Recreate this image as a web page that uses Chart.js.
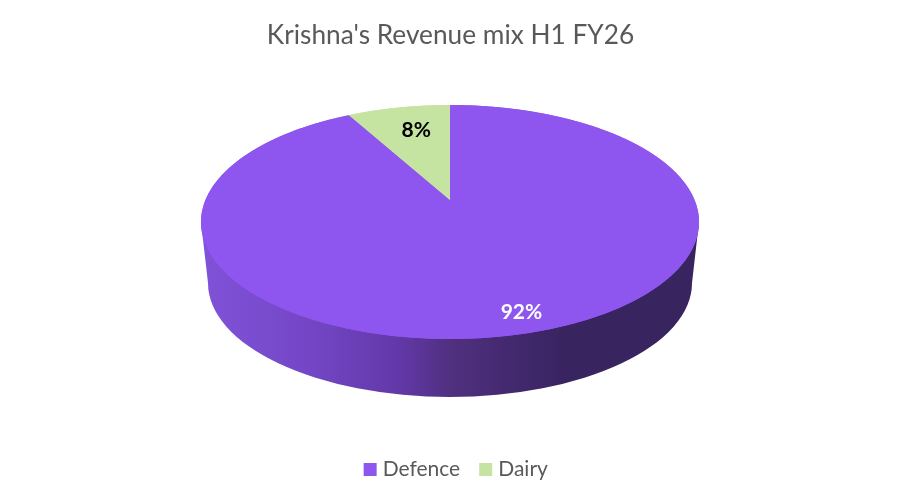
<!DOCTYPE html>
<html><head><meta charset="utf-8">
<style>html,body{margin:0;padding:0;background:#fff}canvas{display:block}</style>
<script src="https://cdn.jsdelivr.net/npm/chart.js@4"></script>
</head><body><canvas id="c" width="901" height="502"></canvas>
<script>
const categories = ['Defence', 'Dairy'];
const shares = [92, 8];
const sliceColors = ['#8E56EE', '#C5E3A1'];
const labelColors = ['#FFFFFF', '#000000'];
const chartTitle = "Krishna's Revenue mix H1 FY26";
const labelRadius = [0.865, 0.72];
const labelNudgeX = [9, 5];

// perspective disc: unit circle -> screen
const P = {cx:450, cy:200, bx:244.6, ay:75.3, p:-0.188};
function project(u, v){
  const d = 1 + P.p * v;
  return [P.cx + P.bx * u / d, (P.ay * v + P.cy) / d];
}
const T = {rx:249, ry:117, cy:222};
const B = {rx:242, ry:114, cy:283};

const disc3d = {
  id:'disc3d',
  afterLayout(chart){
    chart.legend.left += 15; // legend sits slightly right of centre
  },
  beforeDatasetsDraw(chart){
    const ctx = chart.ctx, arc = chart.getDatasetMeta(0).data[0];
    const cx = P.cx;
    const g = ctx.createLinearGradient(cx - T.rx, 0, cx + T.rx, 0);
    g.addColorStop(0, '#8052D8');
    g.addColorStop(0.22, '#7446C6');
    g.addColorStop(0.40, '#6238A8');
    g.addColorStop(0.50, '#50307F');
    g.addColorStop(0.62, '#43296F');
    g.addColorStop(0.74, '#38245F');
    g.addColorStop(1, '#38245F');
    ctx.save();
    ctx.fillStyle = g;
    ctx.beginPath();
    ctx.moveTo(cx - T.rx, T.cy);
    ctx.lineTo(cx - B.rx, B.cy);
    ctx.ellipse(cx, B.cy, B.rx, B.ry, 0, Math.PI, 0, true);
    ctx.lineTo(cx + T.rx, T.cy);
    ctx.closePath();
    ctx.fill();
    ctx.restore();
    // library slices drawn through an elliptical squash
    ctx.save();
    ctx.translate(cx, T.cy);
    ctx.scale(T.rx / arc.outerRadius, T.ry / arc.outerRadius);
    ctx.translate(-arc.x, -arc.y);
  },
  afterDatasetsDraw(chart){
    const ctx = chart.ctx, meta = chart.getDatasetMeta(0);
    ctx.restore();
    // perspective correction of each slice, from the arc's own angles
    meta.data.forEach((a, i) => {
      ctx.beginPath();
      ctx.moveTo(...project(0, 0));
      const n = Math.ceil((a.endAngle - a.startAngle) / 0.004);
      for (let k = 0; k <= n; k++){
        const t = a.startAngle + (a.endAngle - a.startAngle) * k / n;
        ctx.lineTo(...project(Math.cos(t), Math.sin(t)));
      }
      ctx.closePath();
      ctx.fillStyle = sliceColors[i];
      ctx.fill();
    });
    const total = shares.reduce((s, x) => s + x, 0);
    ctx.font = 'bold 21px Lato';
    ctx.textAlign = 'center';
    ctx.textBaseline = 'middle';
    meta.data.forEach((a, i) => {
      const m = (a.startAngle + a.endAngle) / 2;
      const [x, y] = project(Math.cos(m) * labelRadius[i], Math.sin(m) * labelRadius[i]);
      ctx.fillStyle = labelColors[i];
      ctx.fillText(Math.round(shares[i] / total * 100) + '%', x + labelNudgeX[i], y);
    });
  }
};

new Chart(document.getElementById('c'), {
  type:'pie',
  data:{labels:categories, datasets:[{data:shares, backgroundColor:sliceColors, borderWidth:0}]},
  options:{
    responsive:false, animation:false,
    layout:{padding:{top:8, bottom:12}},
    plugins:{
      title:{display:true, text:chartTitle, color:'#595959', font:{family:'Lato', size:26.25, weight:'normal'}, padding:{top:12, bottom:10}},
      legend:{position:'bottom', labels:{
        color:'#595959', font:{family:'Lato', size:21}, boxWidth:4, boxHeight:4, padding:23.5,
        generateLabels(chart){
          return Chart.overrides.pie.plugins.legend.labels.generateLabels(chart).map((it, i) =>
            Object.assign(it, {strokeStyle:sliceColors[i], lineWidth:9, lineJoin:'miter'}));
        }
      }},
      tooltip:{enabled:false}
    }
  },
  plugins:[disc3d]
});
</script></body></html>
